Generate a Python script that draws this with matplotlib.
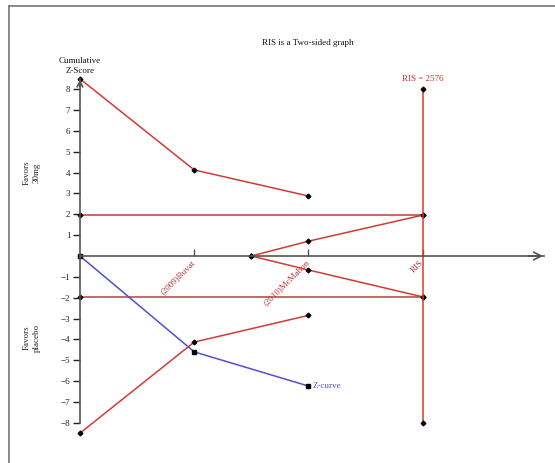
import numpy as np
import matplotlib
matplotlib.use("Agg")
import matplotlib.pyplot as plt
from matplotlib.lines import Line2D

plt.rcParams['font.family'] = ['Liberation Serif', 'DejaVu Serif']

# trials and information axis positions
studies = ['(2009)Buvat', '(2010)McMahon', 'RIS']
study_x = [1, 2, 3]
ris_value = 2576

# cumulative Z-curve
z_x = [0, 1, 2]
z_curve = [0, -4.6, -6.24]

# O'Brien-Fleming type monitoring boundaries
bound_x = [0, 1, 2]
upper_bound = [8.5, 4.13, 2.88]
lower_bound = [-8.5, -4.13, -2.85]

# inner wedge (futility) boundaries
wedge_x = [1.5, 2, 3]
wedge_upper = [0, 0.71, 1.96]
wedge_lower = [0, -0.67, -1.96]

# conventional significance lines and RIS line
conv_z = 1.96
ris_x = 3
ris_span = [-8, 8]

red = '#d23a36'
dark_red = '#b8403c'
blue = '#5050cc'
label_red = '#b83036'
fs = 6.5

W, H = 555, 463
fig = plt.figure(figsize=(W / 100, H / 100), dpi=100)
ax = fig.add_axes([0, 0, 1, 1])

# pixel layout of the axes origin and unit lengths
x0, y0 = 80, 256
px_x, px_y = 114.2, 20.84
ax.set_xlim(-x0 / px_x, (W - x0) / px_x)
ax.set_ylim((y0 - H) / px_y, y0 / px_y)

for s in ['top', 'right']:
    ax.spines[s].set_visible(False)
ax.spines['left'].set_position(('data', 0))
ax.spines['bottom'].set_position(('data', 0))
ax.spines['left'].set_bounds(-8, 8.5)
ax.spines['bottom'].set_bounds(0, 4.06)
for s in ['left', 'bottom']:
    ax.spines[s].set_color('#555555')
    ax.spines[s].set_linewidth(1.2)
ax.set_facecolor('none')

yt = [v for v in range(-8, 9) if v != 0]
ax.set_yticks(yt)
ax.set_yticklabels([f'\u2212{abs(v)}' if v < 0 else str(v) for v in yt])
ax.tick_params(axis='y', direction='out', length=5, width=1, pad=2,
               labelsize=fs, colors='#222222')
ax.set_xticks(study_x)
ax.set_xticklabels(studies, rotation=45, ha='right', va='center',
                   rotation_mode='anchor', fontsize=fs)
ax.tick_params(axis='x', direction='in', length=5, width=1, pad=4,
               colors='#555555')
for t in ax.get_xticklabels():
    t.set_color(label_red)

# arrow heads on axes
ax.annotate('', xy=(4.08, 0), xytext=(3.9, 0),
            arrowprops=dict(arrowstyle='->', color='#555555', lw=1.2,
                            mutation_scale=14))
ax.annotate('', xy=(0, 8.6), xytext=(0, 8.0),
            arrowprops=dict(arrowstyle='->', color='#555555', lw=1.2,
                            mutation_scale=10))

dot = dict(marker='D', markersize=2.4, markerfacecolor='black',
           markeredgecolor='black')

# conventional boundaries
for z in (conv_z, -conv_z):
    ax.plot([0, ris_x], [z, z], color=dark_red, lw=1.1, **dot)

# monitoring boundaries
ax.plot(bound_x, upper_bound, color=red, lw=1.1, **dot)
ax.plot(bound_x, lower_bound, color=red, lw=1.1, **dot)

# inner wedge
ax.plot(wedge_x, wedge_upper, color=red, lw=1.1, **dot)
ax.plot(wedge_x, wedge_lower, color=red, lw=1.1, **dot)

# RIS vertical line
ax.plot([ris_x, ris_x], ris_span, color=red, lw=1.1, **dot)
ax.text(ris_x, ris_span[1] + 0.3, f'RIS = {ris_value}', color=label_red,
        fontsize=fs, ha='center', va='bottom')

# Z-curve
ax.plot(z_x, z_curve, color=blue, lw=1.1, marker='s', markersize=3.2,
        markerfacecolor='black', markeredgecolor='black')
ax.annotate('Z-curve', xy=(z_x[-1], z_curve[-1]), xytext=(3, 0),
            textcoords='offset points', color=blue, fontsize=fs,
            ha='left', va='center')

# axis titles
ax.text(0, 8.7, 'Cumulative\nZ-Score', fontsize=fs, ha='center',
        va='bottom', linespacing=1.2, color='#111111')
fig.text(32 / W, 1 - 173 / H, 'Favors\n30mg', rotation=90, fontsize=fs,
         ha='center', va='center', linespacing=1.3, color='#222222')
fig.text(32 / W, 1 - 338 / H, 'Favors\nplacebo', rotation=90, fontsize=fs,
         ha='center', va='center', linespacing=1.3, color='#222222')
fig.text(308 / W, 1 - 43 / H, 'RIS is a Two-sided graph', fontsize=fs,
         ha='center', va='center', color='#111111')

# outer frame (top and left edges)
fig.add_artist(Line2D([9 / W, 1], [1 - 5.5 / H, 1 - 5.5 / H],
                      color='#777777', lw=1.2))
fig.add_artist(Line2D([9 / W, 9 / W], [0, 1 - 5.5 / H],
                      color='#777777', lw=1.2))

fig.savefig('out.png', dpi=100, facecolor='white')
